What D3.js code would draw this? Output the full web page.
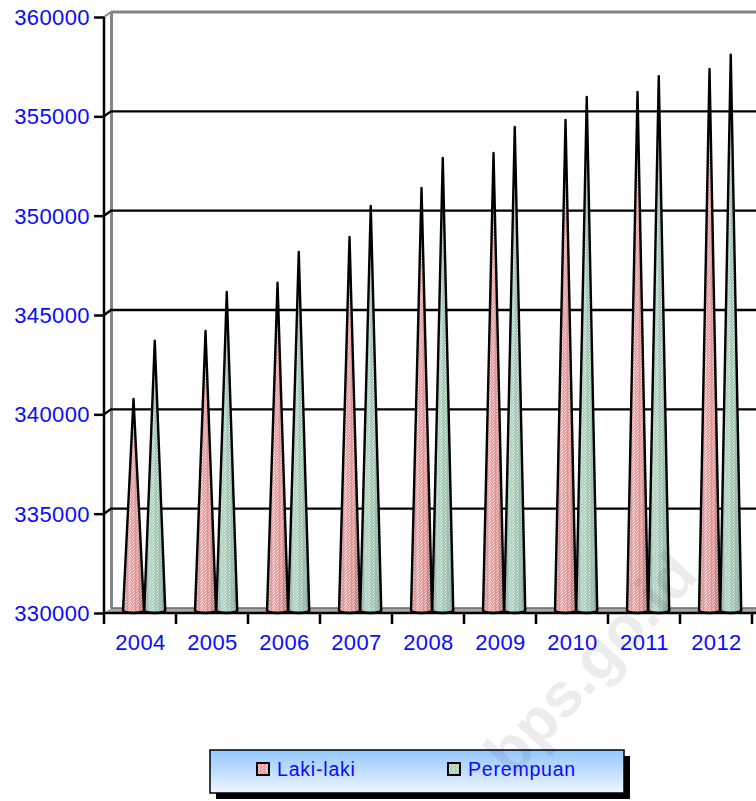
<!DOCTYPE html>
<html>
<head>
<meta charset="utf-8">
<script src="https://cdn.jsdelivr.net/npm/d3@7"></script>
<style>
  body { margin: 0; background: #fff; }
  svg { display: block; font-family: "Liberation Sans", Arial, sans-serif; }
</style>
</head>
<body>
<svg id="chart" width="756" height="801"></svg>
<script>
// data
const years = ["2004", "2005", "2006", "2007", "2008", "2009", "2010", "2011", "2012"];
const lakiLaki = [340650, 344070, 346500, 348800, 351270, 353030, 354690, 356100, 357260];
const perempuan = [343580, 346030, 348050, 350360, 352780, 354340, 355850, 356900, 357980];
const yTicks = [330000, 335000, 340000, 345000, 350000, 355000, 360000];
const seriesNames = ["Laki-laki", "Perempuan"];

const largeur = 756, hauteur = 801;
const blue = "#0a0aff";
const depthX = 7, depthY = -5;   // 3d offset of the back wall

const svg = d3.select("#chart");

const x = d3.scaleBand().domain(years).range([104, 752]);
const y = d3.scaleLinear().domain([330000, 360000]).range([613, 17]);

const defs = svg.append("defs");

// dotted fills of the cones
function makePattern(id, base, dot) {
    const p = defs.append("pattern")
        .attr("id", id)
        .attr("width", 4).attr("height", 3)
        .attr("patternUnits", "userSpaceOnUse");
    p.append("rect").attr("width", 4).attr("height", 3).attr("fill", base);
    p.append("rect").attr("x", 0).attr("y", 0).attr("width", 1).attr("height", 1).attr("fill", dot);
    p.append("rect").attr("x", 2).attr("y", 1).attr("width", 1).attr("height", 1).attr("fill", dot);
    p.append("rect").attr("x", 1).attr("y", 2).attr("width", 1).attr("height", 1).attr("fill", "#ffffff");
}
makePattern("patL", "#ec9c9c", "#f8d8d8");
makePattern("patP", "#a8cfbc", "#d8ece2");

// shading over the cones, darker at the edges
const shade = defs.append("linearGradient").attr("id", "shade")
    .attr("x1", 0).attr("x2", 1).attr("y1", 0).attr("y2", 0);
shade.append("stop").attr("offset", "0%").attr("stop-color", "#000").attr("stop-opacity", 0.15);
shade.append("stop").attr("offset", "35%").attr("stop-color", "#fff").attr("stop-opacity", 0.15);
shade.append("stop").attr("offset", "70%").attr("stop-color", "#000").attr("stop-opacity", 0.05);
shade.append("stop").attr("offset", "100%").attr("stop-color", "#000").attr("stop-opacity", 0.3);

const legGrad = defs.append("linearGradient").attr("id", "legGrad")
    .attr("x1", 0).attr("x2", 0).attr("y1", 0).attr("y2", 1);
legGrad.append("stop").attr("offset", "0%").attr("stop-color", "#92c6ff");
legGrad.append("stop").attr("offset", "100%").attr("stop-color", "#f0f7ff");

// back wall, floor and grid
const yBottom = y(330000), yTop = y(360000);

svg.append("polygon")
    .attr("points", [[104, yBottom], [104 + depthX, yBottom + depthY], [largeur, yBottom + depthY], [largeur, yBottom]].join(" "))
    .attr("fill", "#a8a8a8");
svg.append("line")
    .attr("x1", 104 + depthX).attr("x2", largeur)
    .attr("y1", yBottom + depthY).attr("y2", yBottom + depthY)
    .attr("stroke", "#6a6a6a").attr("stroke-width", 1.5);

svg.append("line")
    .attr("x1", 104 + depthX + 0.5).attr("x2", 104 + depthX + 0.5)
    .attr("y1", yTop + depthY).attr("y2", yBottom + depthY)
    .attr("stroke", "#848484").attr("stroke-width", 3);
svg.append("line")
    .attr("x1", 104 + depthX).attr("x2", largeur)
    .attr("y1", yTop + depthY).attr("y2", yTop + depthY)
    .attr("stroke", "#848484").attr("stroke-width", 3);
svg.append("line")
    .attr("x1", 104).attr("x2", 104 + depthX)
    .attr("y1", yTop).attr("y2", yTop + depthY)
    .attr("stroke", "#848484").attr("stroke-width", 2);

const gridTicks = yTicks.filter(t => t > 330000 && t < 360000);
svg.append("g").selectAll("path")
    .data(gridTicks)
    .enter()
    .append("path")
    .attr("d", d => "M104," + y(d) + "L" + (104 + depthX) + "," + (y(d) + depthY) + "H" + largeur)
    .attr("fill", "none")
    .attr("stroke", "#000")
    .attr("stroke-width", 2.4);

// cones
const series = [
    { name: seriesNames[0], values: lakiLaki, pat: "url(#patL)", pos: 0.41 },
    { name: seriesNames[1], values: perempuan, pat: "url(#patP)", pos: 0.705 }
];
const baseY = yBottom - 2.5, halfW = 10.5;

function conePath(cx, tip) {
    return "M" + (cx - halfW) + "," + baseY +
        "L" + cx + "," + tip +
        "L" + (cx + halfW) + "," + baseY +
        "A" + halfW + ",2.5 0 0 1 " + (cx - halfW) + "," + baseY + "Z";
}

const cones = [];
years.forEach((yr, i) => {
    series.forEach(s => {
        cones.push({ cx: x(yr) + x.bandwidth() * s.pos, tip: y(s.values[i]) - 2.5, pat: s.pat });
    });
});

const coneG = svg.append("g");
coneG.selectAll(".cone")
    .data(cones)
    .enter()
    .append("path")
    .attr("class", "cone")
    .attr("d", d => conePath(d.cx, d.tip))
    .attr("fill", d => d.pat);
coneG.selectAll(".coneShade")
    .data(cones)
    .enter()
    .append("path")
    .attr("class", "coneShade")
    .attr("d", d => conePath(d.cx, d.tip))
    .attr("fill", "url(#shade)")
    .attr("stroke", "#000")
    .attr("stroke-width", 2.4)
    .attr("stroke-linejoin", "round");

// y axis
const yAxis = svg.append("g")
    .attr("transform", "translate(104,0)")
    .call(d3.axisLeft(y).tickValues(yTicks).tickSize(10).tickPadding(4).tickFormat(d3.format("d")));
yAxis.select(".domain").attr("stroke", "#000").attr("stroke-width", 2.5).attr("d", "M0," + yTop + "V" + yBottom);
yAxis.selectAll(".tick line").attr("stroke", "#000").attr("stroke-width", 2.5);
yAxis.selectAll(".tick text")
    .attr("fill", blue)
    .attr("dy", "0.34em")
    .style("font-size", "22px")
    .style("letter-spacing", "0.4px")
    .style("font-family", "'Liberation Sans', Arial, sans-serif");

// x axis
svg.append("line")
    .attr("x1", 104).attr("x2", largeur)
    .attr("y1", yBottom).attr("y2", yBottom)
    .attr("stroke", "#000").attr("stroke-width", 2.5);

svg.append("g").selectAll("line")
    .data(years.concat(["end"]))
    .enter()
    .append("line")
    .attr("x1", (d, i) => x.range()[0] + i * x.step())
    .attr("x2", (d, i) => x.range()[0] + i * x.step())
    .attr("y1", yBottom).attr("y2", yBottom + 11)
    .attr("stroke", "#000").attr("stroke-width", 2.5);

svg.append("g").selectAll("text")
    .data(years)
    .enter()
    .append("text")
    .text(d => d)
    .attr("x", d => x(d) + x.bandwidth() / 2 + 0.5)
    .attr("y", 649.5)
    .attr("fill", blue)
    .style("font-size", "22px")
    .style("letter-spacing", "0.4px")
    .style("text-anchor", "middle");

// legend
const leg = svg.append("g");
leg.append("rect")
    .attr("x", 216).attr("y", 756).attr("width", 414).attr("height", 43)
    .attr("fill", "#000");
leg.append("rect")
    .attr("x", 210).attr("y", 750).attr("width", 414).attr("height", 43)
    .attr("fill", "url(#legGrad)")
    .attr("stroke", "#000").attr("stroke-width", 1.5);

const legItems = leg.selectAll(".legItem")
    .data(series)
    .enter()
    .append("g")
    .attr("class", "legItem")
    .attr("transform", (d, i) => "translate(" + [257, 448][i] + ",763)");
legItems.append("rect")
    .attr("width", 12).attr("height", 12)
    .attr("fill", d => d.pat)
    .attr("stroke", "#000").attr("stroke-width", 2);
legItems.append("text")
    .text(d => d.name)
    .attr("x", 20).attr("y", 13)
    .attr("fill", blue)
    .style("font-size", "19.5px")
    .style("letter-spacing", "0.8px");

// watermark
svg.append("text")
    .text("bps.go.id")
    .attr("transform", "translate(700,577) rotate(-47)")
    .attr("text-anchor", "end")
    .attr("fill", "#000")
    .attr("opacity", 0.07)
    .style("font-size", "62px")
    .style("font-weight", "bold");
</script>
</body>
</html>
